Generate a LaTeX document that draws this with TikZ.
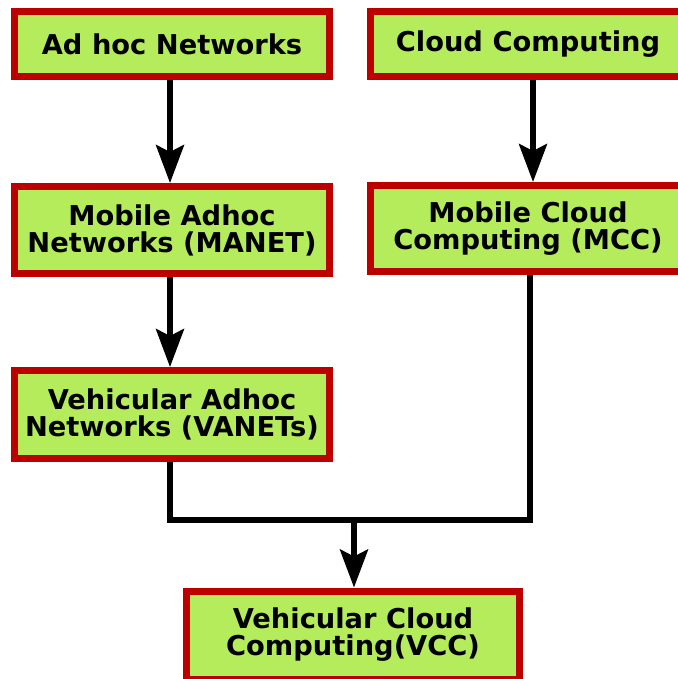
\documentclass[tikz,border=0pt]{standalone}
\usepackage{fontspec}
\setmainfont{DejaVu Sans}
\usetikzlibrary{arrows.meta}
\definecolor{boxfill}{RGB}{180,236,92}
\definecolor{boxline}{RGB}{188,0,0}
\begin{document}
\begin{tikzpicture}[x=1pt,y=-1pt,
  box/.style={draw=boxline, fill=boxfill, line width=7pt, inner sep=0pt,
    align=center, font=\bfseries\fontsize{27.3}{27}\selectfont},
  conn/.style={draw=black, line width=5.5pt},
  arr/.style={conn, -{Stealth[length=38pt,width=28pt,inset=7pt]}}]
\useasboundingbox (0,0) rectangle (677,679);

\node[box, minimum width=315pt, minimum height=65pt] (adhoc) at (172,44) {Ad hoc Networks};
\node[box, minimum width=316pt, minimum height=65pt] (cloud) at (528,44) {Cloud Computing};
\node[box, minimum width=315pt, minimum height=87pt] (manet) at (172,230) {Mobile Adhoc\\Networks (MANET)};
\node[box, minimum width=316pt, minimum height=86pt] (mcc) at (528,228.5) {Mobile Cloud\\Computing (MCC)};
\node[box, minimum width=315pt, minimum height=88pt] (vanet) at (172,414.5) {Vehicular Adhoc\\Networks (VANETs)};
\node[box, minimum width=333pt, minimum height=88pt] (vcc) at (353,635) {Vehicular Cloud\\Computing(VCC)};

\coordinate (join) at (354,520);

\draw[arr] ([xshift=-2pt]adhoc.south) -- ([xshift=-2pt]manet.north);
\draw[arr] ([xshift=5pt]cloud.south) -- ([xshift=5pt]mcc.north);
\draw[arr] ([xshift=-2pt]manet.south) -- ([xshift=-2pt]vanet.north);
\draw[conn] ([xshift=-2pt]vanet.south) |- (join) -| ([xshift=2pt]mcc.south);
\draw[arr] (join) -- (join |- vcc.north);
\end{tikzpicture}
\end{document}
